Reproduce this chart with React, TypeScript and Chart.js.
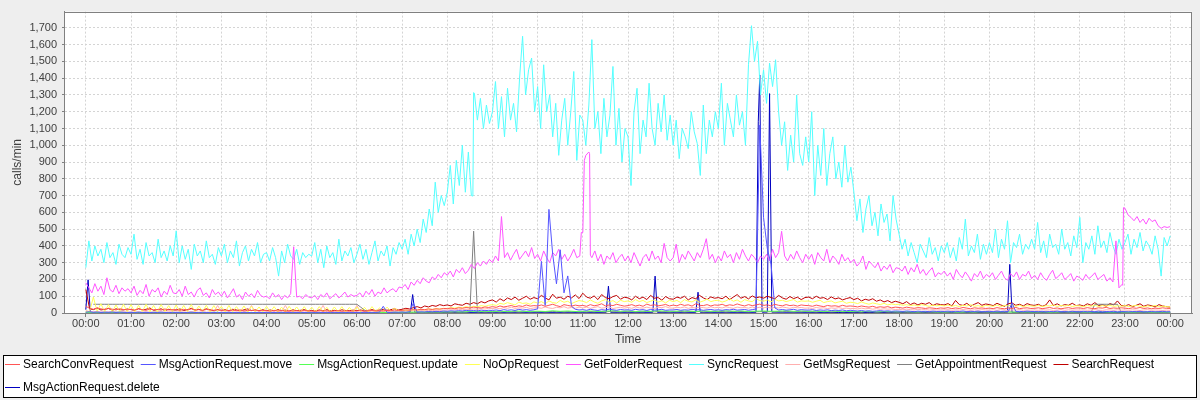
import { useEffect, useRef } from 'react';
import { Chart, registerables } from 'chart.js';

Chart.register(...registerables);

const seriesNames = [
  'SearchConvRequest',
  'MsgActionRequest.move',
  'MsgActionRequest.update',
  'NoOpRequest',
  'GetFolderRequest',
  'SyncRequest',
  'GetMsgRequest',
  'GetAppointmentRequest',
  'SearchRequest',
  'MsgActionRequest.delete',
];
const seriesColors = [
  '#FF5555', '#5555FF', '#55FF55', '#FFFF55', '#FF55FF',
  '#55FFFF', '#FFAFAF', '#808080', '#C00000', '#0000C0',
];

const xTickValues = [0, 60, 120, 180, 240, 300, 360, 420, 480, 540, 600, 660, 720, 780, 840, 900, 960, 1020, 1080, 1140, 1200, 1260, 1320, 1380, 1440];
const xTickLabels = ['00:00', '01:00', '02:00', '03:00', '04:00', '05:00', '06:00', '07:00', '08:00', '09:00', '10:00', '11:00', '12:00', '13:00', '14:00', '15:00', '16:00', '17:00', '18:00', '19:00', '20:00', '21:00', '22:00', '23:00', '00:00'];
const yTickValues = [0, 100, 200, 300, 400, 500, 600, 700, 800, 900, 1000, 1100, 1200, 1300, 1400, 1500, 1600, 1700];

// SyncRequest, one row per hour, 4-minute samples
const syncRows = [
  [270, 430, 310, 400, 340, 380, 300, 420, 330, 360, 290, 410, 350, 330, 390],
  [350, 470, 320, 380, 290, 420, 340, 360, 300, 440, 330, 370, 310, 400, 340],
  [490, 300, 400, 320, 380, 260, 410, 340, 370, 300, 430, 330, 350, 290, 390],
  [340, 410, 300, 370, 330, 430, 280, 360, 400, 310, 380, 340, 420, 300, 350],
  [360, 310, 390, 330, 220, 370, 300, 410, 340, 320, 380, 290, 360, 330, 350],
  [340, 420, 300, 380, 270, 400, 330, 360, 290, 440, 310, 370, 340, 390, 300],
  [350, 410, 320, 380, 290, 360, 430, 310, 370, 340, 400, 280, 390, 350, 420],
  [380, 440, 350, 470, 400, 500, 420, 560, 480, 620, 520, 780, 600, 700, 640],
  [720, 880, 650, 910, 760, 1000, 720, 960, 700, 1310, 1150, 1280, 1100, 1240, 1130],
  [1200, 1380, 1100, 1290, 1050, 1340, 1150, 1250, 1080, 1400, 1650, 1300, 1450, 1520, 1200],
  [1350, 1100, 1480, 1200, 1300, 1050, 1250, 940, 1150, 1280, 1000, 1200, 1440, 910, 1180],
  [1150, 1000, 1240, 1630, 1100, 1200, 950, 1280, 1050, 1180, 1470, 1000, 1220, 900, 1100],
  [1050, 760, 1200, 1340, 950, 1150, 1050, 1370, 1100, 1000, 1250, 1080, 1300, 1030, 1180],
  [1000, 1150, 920, 1100, 1050, 980, 1200, 1080, 1010, 820, 1240, 950, 1150, 1050, 1200],
  [1100, 1370, 1000, 1250, 1150, 1050, 1300, 1120, 1200, 1000, 1480, 1713, 1500, 1620, 1300],
  [1450, 1250, 1490, 1350, 1510, 1200, 1000, 1140, 850, 1060, 900, 1300, 950, 880, 1050],
  [900, 1200, 700, 1000, 820, 1100, 760, 950, 1050, 800, 900, 750, 1000, 780, 870],
  [720, 550, 680, 480, 620, 700, 520, 600, 460, 650, 540, 590, 430, 700, 560],
  [470, 380, 440, 340, 420, 360, 300, 410, 370, 330, 450, 350, 390, 310, 400],
  [360, 420, 330, 390, 310, 450, 380, 560, 340, 400, 360, 470, 320, 410, 350],
  [420, 360, 500, 330, 440, 380, 550, 300, 420, 390, 470, 350, 410, 380, 440],
  [380, 540, 360, 430, 330, 470, 390, 410, 350, 500, 380, 420, 340, 460, 390],
  [570, 300, 420, 380, 460, 350, 520, 390, 430, 360, 480, 400, 350, 440, 380],
  [420, 470, 350, 440, 390, 480, 370, 430, 400, 350, 460, 380, 220, 450, 400],
  [460],
];
// extra SyncRequest samples at the sharp jump near 08:34
const syncExtraTimes = [514, 515];
const syncExtraValues = [697, 1314];

// GetFolderRequest, 4-minute samples
const getFolderRows = [
  [180, 150, 120, 175, 130, 160, 110, 210, 140, 125, 165, 115, 150, 130, 145],
  [120, 160, 105, 135, 115, 170, 100, 140, 125, 150, 95, 130, 110, 165, 120],
  [115, 140, 100, 160, 110, 125, 95, 135, 150, 105, 120, 90, 140, 110, 125],
  [100, 130, 90, 115, 145, 95, 110, 80, 125, 100, 115, 90, 135, 105, 95],
  [100, 85, 120, 95, 110, 80, 105, 90, 115, 395, 95, 100, 85, 110, 95],
  [90, 105, 80, 110, 95, 120, 85, 100, 115, 90, 105, 125, 95, 110, 100],
  [105, 120, 95, 130, 110, 140, 100, 125, 115, 150, 120, 135, 145, 125, 155],
  [150, 170, 140, 185, 165, 195, 175, 210, 190, 180, 215, 200, 230, 210, 240],
  [225, 250, 215, 260, 240, 270, 235, 255, 290, 265, 300, 280, 310, 290, 320],
  [300, 340, 310, 575, 330, 360, 315, 350, 380, 320, 345, 370, 335, 390, 325],
  [350, 310, 370, 330, 300, 360, 340, 380, 320, 350, 310, 340, 380, 330, 340],
  [480, 940, 960, 330, 370, 310, 350, 290, 340, 320, 360, 300, 330, 350, 310],
  [340, 300, 360, 320, 280, 330, 350, 310, 370, 320, 340, 300, 415, 330, 310],
  [330, 410, 300, 350, 320, 370, 340, 310, 360, 330, 380, 443, 320, 350, 300],
  [340, 310, 370, 330, 350, 300, 360, 320, 380, 340, 310, 350, 330, 300, 340],
  [320, 350, 310, 380, 330, 360, 487, 340, 310, 350, 320, 370, 330, 300, 350],
  [320, 350, 290, 360, 330, 310, 380, 300, 340, 320, 290, 350, 310, 330, 300],
  [320, 280, 300, 340, 260, 310, 290, 270, 300, 250, 280, 260, 290, 240, 270],
  [265, 250, 280, 230, 270, 245, 290, 235, 260, 225, 250, 270, 215, 240, 230],
  [250, 220, 240, 200, 260, 230, 210, 245, 220, 190, 235, 215, 250, 205, 230],
  [215, 240, 200, 225, 250, 210, 195, 235, 215, 245, 200, 230, 220, 250, 205],
  [225, 200, 240, 210, 195, 230, 255, 205, 220, 240, 200, 215, 235, 190, 220],
  [210, 195, 230, 205, 220, 240, 200, 215, 230, 190, 210, 185, 430, 150, 170],
  [625, 585, 570, 550, 575, 540, 560, 530, 565, 545, 555, 520, 505, 515, 510],
  [515],
];
// extra GetFolderRequest samples at the step changes (10:58-11:10 plateau, 22:57 jump)
const getFolderExtraTimes = [658, 662, 669, 670, 1377, 1378];
const getFolderExtraValues = [480, 910, 950, 345, 165, 628];

// SearchRequest, 5-minute samples
const searchRows = [
  [140, 25, 20, 30, 18, 22, 28, 15, 25, 20, 18, 24],
  [20, 15, 26, 18, 22, 30, 16, 20, 25, 14, 22, 18],
  [18, 24, 15, 20, 28, 17, 22, 16, 25, 19, 14, 21],
  [16, 20, 14, 22, 18, 12, 19, 24, 15, 18, 13, 20],
  [14, 18, 12, 20, 15, 17, 11, 19, 14, 16, 20, 13],
  [15, 12, 18, 14, 20, 13, 16, 12, 19, 15, 14, 17],
  [14, 18, 12, 16, 20, 15, 18, 22, 16, 20, 25, 18],
  [22, 28, 24, 32, 38, 30, 42, 36, 45, 40, 50, 44],
  [48, 42, 55, 50, 46, 58, 52, 62, 55, 68, 60, 72],
  [78, 65, 85, 72, 90, 80, 95, 76, 88, 100, 82, 92],
  [85, 105, 90, 78, 112, 88, 95, 82, 100, 90, 108, 86],
  [118, 95, 88, 102, 80, 110, 92, 85, 98, 105, 82, 94],
  [90, 78, 100, 85, 95, 80, 105, 88, 92, 76, 98, 85],
  [82, 95, 88, 100, 78, 92, 85, 105, 90, 80, 96, 88],
  [92, 85, 100, 80, 95, 110, 88, 98, 84, 102, 90, 96],
  [88, 100, 92, 85, 105, 90, 82, 98, 86, 94, 80, 92],
  [95, 85, 100, 88, 92, 80, 96, 84, 90, 78, 86, 92],
  [80, 88, 72, 82, 76, 85, 70, 78, 66, 74, 62, 70],
  [64, 55, 68, 50, 60, 48, 58, 52, 62, 45, 55, 50],
  [48, 56, 42, 75, 50, 45, 58, 40, 52, 62, 46, 54],
  [50, 44, 58, 48, 40, 55, 60, 46, 52, 42, 56, 48],
  [45, 52, 40, 48, 78, 44, 55, 42, 50, 46, 58, 44],
  [48, 42, 55, 46, 62, 44, 50, 40, 56, 48, 72, 45],
  [42, 50, 38, 46, 55, 40, 48, 44, 36, 50, 42, 38],
  [35],
];

// NoOpRequest, 5-minute samples
const noOpRows = [
  [10, 8, 95, 9, 55, 8, 50, 7, 48, 9, 52, 8],
  [50, 7, 46, 9, 52, 8, 45, 7, 50, 9, 44, 8],
  [48, 7, 45, 8, 50, 7, 42, 9, 46, 7, 44, 8],
  [40, 7, 45, 8, 38, 7, 42, 6, 40, 8, 36, 7],
  [40, 6, 38, 7, 35, 6, 40, 7, 36, 6, 38, 7],
  [35, 6, 38, 7, 34, 6, 36, 7, 38, 6, 33, 7],
  [36, 8, 34, 7, 38, 9, 30, 10, 35, 12, 28, 14],
  [15, 18, 14, 20, 17, 22, 19, 25, 21, 26, 24, 28],
  [27, 32, 29, 35, 31, 38, 34, 40, 37, 44, 40, 46],
  [50, 45, 58, 52, 62, 55, 48, 65, 57, 60, 52, 66],
  [60, 68, 55, 72, 62, 58, 75, 64, 70, 56, 66, 74],
  [70, 62, 78, 66, 58, 72, 80, 65, 74, 60, 76, 68],
  [72, 64, 80, 68, 75, 62, 70, 78, 65, 73, 60, 76],
  [68, 75, 62, 80, 70, 66, 78, 64, 72, 82, 68, 74],
  [76, 65, 72, 84, 70, 78, 64, 80, 72, 68, 85, 74],
  [70, 78, 66, 82, 72, 76, 68, 74, 80, 65, 72, 70],
  [72, 64, 70, 76, 62, 68, 72, 60, 66, 70, 58, 64],
  [62, 56, 66, 58, 52, 60, 55, 50, 58, 48, 54, 50],
  [52, 46, 50, 44, 48, 42, 50, 45, 40, 47, 43, 46],
  [42, 48, 40, 45, 38, 46, 42, 50, 40, 44, 38, 45],
  [43, 40, 48, 38, 45, 42, 50, 40, 46, 38, 44, 42],
  [40, 46, 38, 44, 42, 48, 39, 45, 41, 47, 38, 44],
  [42, 38, 45, 40, 47, 38, 44, 41, 46, 39, 43, 40],
  [44, 38, 42, 46, 40, 36, 43, 39, 45, 37, 41, 38],
  [36],
];

// SearchConvRequest, 5-minute samples
const searchConvRows = [
  [40, 28, 22, 30, 25, 20, 27, 23, 18, 25, 21, 19],
  [22, 18, 25, 20, 16, 23, 19, 21, 17, 24, 18, 20],
  [19, 16, 22, 18, 25, 17, 20, 15, 21, 18, 16, 19],
  [15, 18, 13, 17, 14, 19, 12, 16, 14, 18, 13, 15],
  [14, 11, 16, 12, 15, 10, 13, 12, 14, 11, 15, 12],
  [12, 10, 14, 11, 13, 10, 12, 14, 10, 13, 11, 12],
  [12, 14, 11, 13, 15, 12, 14, 13, 16, 14, 17, 15],
  [16, 18, 17, 20, 18, 22, 20, 24, 21, 25, 23, 27],
  [26, 29, 25, 31, 28, 33, 30, 35, 32, 30, 36, 33],
  [38, 34, 42, 36, 40, 45, 37, 43, 39, 48, 41, 44],
  [42, 48, 40, 46, 52, 44, 38, 50, 45, 41, 47, 43],
  [45, 40, 50, 43, 47, 55, 42, 48, 44, 52, 46, 41],
  [44, 50, 42, 47, 40, 53, 45, 49, 43, 46, 51, 42],
  [47, 43, 52, 45, 49, 41, 55, 46, 44, 50, 42, 48],
  [46, 52, 43, 49, 45, 54, 47, 42, 50, 44, 48, 53],
  [45, 49, 42, 52, 46, 43, 50, 44, 47, 41, 48, 45],
  [44, 40, 47, 42, 38, 45, 41, 43, 39, 46, 40, 42],
  [40, 36, 42, 38, 35, 40, 33, 37, 34, 38, 31, 35],
  [33, 29, 35, 31, 28, 32, 30, 27, 31, 29, 26, 30],
  [28, 32, 26, 30, 27, 33, 29, 25, 31, 28, 30, 27],
  [29, 26, 32, 28, 25, 30, 27, 33, 26, 29, 31, 27],
  [28, 31, 26, 29, 33, 27, 30, 25, 29, 32, 27, 30],
  [30, 27, 32, 28, 26, 31, 29, 34, 27, 30, 28, 31],
  [29, 26, 31, 28, 33, 27, 30, 25, 29, 27, 31, 28],
  [27],
];

// GetMsgRequest, 5-minute samples
const getMsgRows = [
  [15, 8, 6, 9, 5, 7, 6, 8, 5, 6, 7, 5],
  [6, 5, 8, 5, 7, 6, 5, 8, 6, 5, 7, 6],
  [5, 7, 6, 5, 8, 6, 5, 7, 5, 6, 5, 45],
  [6, 5, 7, 5, 6, 8, 5, 6, 45, 5, 6, 5],
  [7, 5, 6, 5, 8, 45, 6, 5, 7, 5, 6, 5],
  [6, 5, 7, 45, 5, 6, 5, 7, 5, 6, 5, 7],
  [45, 6, 5, 7, 6, 8, 7, 9, 8, 10, 9, 11],
  [10, 12, 11, 14, 12, 15, 13, 16, 14, 17, 15, 18],
  [17, 20, 18, 22, 19, 23, 21, 25, 22, 26, 24, 28],
  [26, 30, 25, 32, 28, 35, 27, 31, 29, 34, 26, 30],
  [32, 28, 36, 30, 27, 34, 31, 38, 29, 33, 28, 35],
  [30, 35, 28, 33, 38, 29, 32, 36, 27, 31, 34, 29],
  [33, 28, 36, 31, 29, 35, 30, 27, 34, 32, 38, 30],
  [29, 34, 31, 36, 28, 33, 30, 35, 32, 29, 37, 31],
  [34, 30, 37, 32, 28, 35, 31, 33, 29, 36, 30, 34],
  [31, 35, 29, 33, 30, 36, 32, 28, 34, 31, 33, 29],
  [30, 27, 33, 29, 31, 26, 30, 28, 32, 27, 29, 26],
  [27, 24, 29, 25, 27, 23, 26, 22, 25, 23, 24, 21],
  [22, 19, 23, 20, 18, 22, 19, 21, 17, 20, 18, 19],
  [18, 20, 16, 19, 17, 21, 18, 16, 19, 17, 20, 18],
  [17, 19, 16, 20, 18, 15, 19, 17, 21, 16, 18, 17],
  [18, 16, 20, 17, 19, 15, 18, 20, 16, 19, 17, 18],
  [17, 19, 16, 18, 20, 17, 15, 19, 18, 16, 19, 17],
  [18, 16, 19, 17, 15, 18, 20, 16, 18, 17, 15, 17],
  [16],
];

// GetAppointmentRequest, 5-minute samples (null = no sample)
const getAppointmentRows = [
  [null, null, 52, 52, 52, 52, 52, 52, 52, 52, 52, 52],
  [52, 52, 52, 52, 52, 52, 52, 52, 52, 52, 52, 52],
  [52, 52, 52, 52, 52, 52, 52, 52, 52, 52, 52, 52],
  [52, 52, 52, 52, 52, 52, 52, 52, 52, 52, 52, 52],
  [52, 52, 52, 52, 52, 52, 52, 52, 52, 52, 52, 52],
  [52, 52, 52, 52, 52, 52, 52, 52, 52, 52, 52, 52],
  [52, 35, 18, 5, 3, 2, 2, 3, 2, 4, 3, 2],
  [3, 2, 4, 3, 5, 3, 4, 6, 3, 5, 4, 6],
  [5, 4, 6, 5, 7, 5, 8, 488, 6, 8, 5, 7],
  [6, 8, 5, 9, 7, 6, 8, 5, 7, 9, 6, 8],
  [7, 9, 6, 8, 10, 7, 9, 6, 8, 7, 9, 6],
  [8, 6, 9, 7, 10, 8, 6, 9, 7, 8, 6, 9],
  [7, 9, 6, 8, 7, 10, 8, 6, 9, 7, 8, 6],
  [8, 7, 9, 6, 8, 10, 7, 9, 6, 8, 7, 9],
  [7, 9, 6, 8, 10, 7, 9, 8, 6, 9, 7, 8],
  [9, 7, 8, 6, 9, 7, 10, 8, 6, 8, 7, 9],
  [7, 8, 6, 9, 7, 8, 6, 7, 9, 6, 8, 7],
  [6, 7, 5, 8, 6, 7, 5, 6, 7, 5, 6, 5],
  [5, 6, 4, 5, 6, 4, 5, 6, 4, 5, 4, 6],
  [4, 5, 6, 4, 5, 4, 6, 5, 4, 6, 5, 4],
  [5, 4, 6, 5, 4, 5, 6, 4, 5, 4, 6, 5],
  [6, 4, 5, 6, 4, 5, 4, 6, 5, 4, 5, 6],
  [6, 5, 7, 5, 52, 52, 52, 52, 52, 52, 52, 5],
  [5, 4, 6, 5, 4, 6, 5, 4, 5, 6, 4, 5],
  [4],
];

// MsgActionRequest.move, 5-minute samples
const moveRows = [
  [5, 8, 4, 6, 3, 5, 4, 6, 3, 5, 4, 3],
  [4, 3, 5, 3, 4, 2, 4, 3, 5, 3, 2, 4],
  [3, 4, 2, 3, 5, 3, 2, 4, 3, 2, 3, 4],
  [2, 3, 4, 2, 3, 2, 4, 3, 2, 3, 2, 3],
  [3, 2, 3, 2, 4, 2, 3, 2, 3, 2, 3, 2],
  [2, 3, 2, 3, 2, 4, 2, 3, 2, 3, 2, 3],
  [3, 2, 4, 3, 2, 3, 5, 40, 4, 3, 5, 4],
  [6, 4, 8, 60, 5, 7, 6, 9, 7, 10, 8, 12],
  [10, 13, 11, 14, 12, 16, 13, 15, 12, 17, 14, 16],
  [15, 18, 14, 20, 16, 19, 15, 22, 17, 20, 16, 19],
  [25, 308, 45, 618, 350, 174, 377, 120, 221, 40, 22, 18],
  [20, 16, 22, 18, 15, 20, 17, 23, 19, 16, 21, 18],
  [19, 16, 22, 18, 20, 15, 21, 17, 19, 22, 16, 18],
  [18, 21, 16, 19, 17, 22, 18, 20, 16, 19, 21, 17],
  [19, 16, 20, 18, 22, 17, 19, 21, 16, 20, 24, 1120],
  [570, 385, 290, 30, 18, 21, 17, 19, 22, 16, 20, 18],
  [17, 20, 15, 18, 16, 19, 14, 17, 15, 18, 13, 16],
  [14, 12, 15, 11, 13, 10, 12, 14, 11, 13, 10, 12],
  [11, 9, 12, 10, 8, 11, 9, 10, 8, 11, 9, 10],
  [9, 11, 8, 10, 9, 12, 8, 10, 9, 11, 8, 9],
  [10, 8, 11, 9, 10, 8, 60, 9, 10, 8, 11, 9],
  [9, 8, 10, 7, 9, 8, 11, 8, 9, 7, 10, 8],
  [8, 10, 7, 9, 8, 11, 7, 9, 8, 10, 7, 9],
  [8, 7, 9, 8, 10, 7, 8, 9, 7, 8, 10, 7],
  [8],
];

// MsgActionRequest.update, 10-minute samples
const updateRows = [
  [4, 2, 3, 2, 4, 3], [2, 3, 2, 4, 2, 3], [3, 2, 2, 3, 2, 4], [2, 3, 2, 2, 3, 2],
  [2, 2, 3, 2, 2, 3], [2, 3, 2, 2, 3, 2], [3, 2, 3, 4, 3, 4], [4, 5, 6, 5, 7, 6],
  [7, 8, 6, 9, 8, 10], [9, 11, 8, 12, 10, 9], [11, 9, 13, 10, 12, 9], [10, 12, 9, 11, 13, 10],
  [12, 9, 11, 10, 13, 11], [10, 12, 11, 9, 12, 10], [11, 13, 10, 12, 9, 11], [12, 10, 11, 13, 10, 12],
  [10, 11, 9, 12, 10, 9], [9, 8, 10, 7, 9, 8], [7, 8, 6, 7, 8, 6], [6, 7, 5, 7, 6, 8],
  [7, 6, 8, 5, 7, 6], [6, 7, 5, 6, 8, 6], [7, 5, 6, 7, 5, 6], [6, 5, 7, 6, 5, 6],
  [5],
];

// MsgActionRequest.delete, sparse samples (minute of day, calls/min)
const deleteTimes = [0, 3, 6, 120, 240, 360, 431, 434, 437, 540, 660, 691, 694, 697, 753, 756, 759, 810, 813, 816, 890, 893, 895, 898, 905, 908, 911, 1000, 1150, 1224, 1227, 1230, 1320, 1440];
const deleteValues = [20, 198, 4, 2, 2, 3, 3, 110, 3, 4, 4, 4, 160, 4, 4, 220, 4, 4, 124, 4, 4, 1140, 1419, 5, 5, 1308, 5, 3, 3, 3, 290, 3, 2, 2];

type Pt = { x: number; y: number | null };

function fromHourRows(rows: (number | null)[][]): Pt[] {
  const step = 60 / rows[0].length;
  const pts: Pt[] = [];
  rows.forEach((row, h) => row.forEach((v, j) => pts.push({ x: h * 60 + j * step, y: v })));
  return pts;
}

function fromSparse(times: number[], values: number[]): Pt[] {
  return times.map((t, i) => ({ x: t, y: values[i] }));
}

function withExtra(base: Pt[], times: number[], values: number[]): Pt[] {
  const pts = base.filter((p) => !times.includes(p.x)).concat(fromSparse(times, values));
  pts.sort((a, b) => a.x - b.x);
  return pts;
}

const seriesData: Pt[][] = [
  fromHourRows(searchConvRows),
  fromHourRows(moveRows),
  fromHourRows(updateRows),
  fromHourRows(noOpRows),
  withExtra(fromHourRows(getFolderRows), getFolderExtraTimes, getFolderExtraValues),
  withExtra(fromHourRows(syncRows), syncExtraTimes, syncExtraValues),
  fromHourRows(getMsgRows),
  fromHourRows(getAppointmentRows),
  fromHourRows(searchRows),
  fromSparse(deleteTimes, deleteValues),
];

const FONT = '"Liberation Sans", Arial, sans-serif';

const framePlugin = {
  id: 'jfreeFrame',
  beforeDraw(chart: any) {
    const { ctx, chartArea: a } = chart;
    ctx.save();
    ctx.fillStyle = '#EEEEEE';
    ctx.fillRect(0, 0, chart.width, chart.height);
    ctx.fillStyle = '#FFFFFF';
    ctx.fillRect(a.left, a.top, a.right - a.left, a.bottom - a.top);
    ctx.restore();
  },
  afterDraw(chart: any) {
    const { ctx, chartArea: a } = chart;
    ctx.save();
    // plot outline
    ctx.strokeStyle = '#808080';
    ctx.lineWidth = 1;
    ctx.strokeRect(Math.round(a.left) + 0.5, Math.round(a.top) + 0.5, Math.round(a.right - a.left) - 1, Math.round(a.bottom - a.top));
    // legend box
    const bx = 3, by = 355, bw = 1194, bh = 43;
    ctx.fillStyle = '#FFFFFF';
    ctx.fillRect(bx, by, bw, bh);
    ctx.strokeStyle = '#000000';
    ctx.strokeRect(bx + 0.5, by + 0.5, bw - 1, bh - 1);
    ctx.font = `12px ${FONT}`;
    ctx.textBaseline = 'middle';
    ctx.textAlign = 'left';
    let x = 5;
    let y = 364;
    seriesNames.forEach((name, i) => {
      const w = ctx.measureText(name).width;
      const itemW = 15 + 3 + w;
      if (x + itemW > bx + bw - 4) {
        x = 5;
        y += 23;
      }
      ctx.strokeStyle = seriesColors[i];
      ctx.lineWidth = 1;
      ctx.beginPath();
      ctx.moveTo(x, y + 0.5);
      ctx.lineTo(x + 15, y + 0.5);
      ctx.stroke();
      ctx.fillStyle = '#000000';
      ctx.fillText(name, x + 18, y + 1);
      x += itemW + 7;
    });
    ctx.restore();
  },
};

export default function App() {
  const ref = useRef<HTMLCanvasElement | null>(null);
  useEffect(() => {
    if (!ref.current) return;
    const chart = new Chart(ref.current, {
      type: 'line',
      data: {
        datasets: seriesNames.map((name, i) => ({
          label: name,
          data: seriesData[i] as any,
          borderColor: seriesColors[i],
          backgroundColor: seriesColors[i],
          borderWidth: 1,
          pointRadius: 0,
          tension: 0,
          fill: false,
          borderJoinStyle: 'bevel' as const,
          spanGaps: false,
        })),
      },
      options: {
        animation: false,
        responsive: false,
        devicePixelRatio: 1,
        parsing: true,
        layout: { padding: { left: 0, right: 8, top: 4, bottom: 50 } },
        plugins: { legend: { display: false }, tooltip: { enabled: false } },
        scales: {
          x: {
            type: 'linear',
            min: -29,
            max: 1469,
            afterBuildTicks: (s: any) => {
              s.ticks = xTickValues.map((v) => ({ value: v }));
            },
            afterFit: (s: any) => {
              s.height = 37;
            },
            ticks: {
              autoSkip: false,
              maxRotation: 0,
              padding: 0,
              color: '#404040',
              font: { family: FONT, size: 11 },
              callback: (_v: any, i: number) => xTickLabels[i],
            },
            grid: {
              color: '#D4D4D4',
              tickColor: '#808080',
              tickLength: 4,
              tickBorderDash: [],
              drawTicks: true,
            },
            border: { display: true, color: '#808080', dash: [2, 2] },
            title: {
              display: true,
              text: 'Time',
              color: '#404040',
              font: { family: FONT, size: 12 },
              padding: { top: 0, bottom: 3 },
            },
          },
          y: {
            type: 'linear',
            min: 0,
            max: 1797,
            afterBuildTicks: (s: any) => {
              s.ticks = yTickValues.map((v) => ({ value: v }));
            },
            afterFit: (s: any) => {
              s.width = 64;
            },
            ticks: {
              padding: 5,
              color: '#404040',
              font: { family: FONT, size: 11 },
              callback: (v: any) => Number(v).toLocaleString('en-US'),
            },
            grid: {
              color: '#D4D4D4',
              tickColor: '#808080',
              tickLength: 2,
              tickBorderDash: [],
              drawTicks: true,
            },
            border: { display: true, color: '#808080', dash: [2, 2] },
            title: {
              display: true,
              text: 'calls/min',
              color: '#404040',
              font: { family: FONT, size: 12 },
              padding: { top: 10, bottom: 0 },
            },
          },
        },
      },
      plugins: [framePlugin],
    });
    return () => chart.destroy();
  }, []);
  return (
    <div style={{ position: 'fixed', left: 0, top: 0, width: 1200, height: 400, background: '#EEEEEE' }}>
      <canvas ref={ref} width={1200} height={400} style={{ display: 'block', width: 1200, height: 400 }} />
    </div>
  );
}
